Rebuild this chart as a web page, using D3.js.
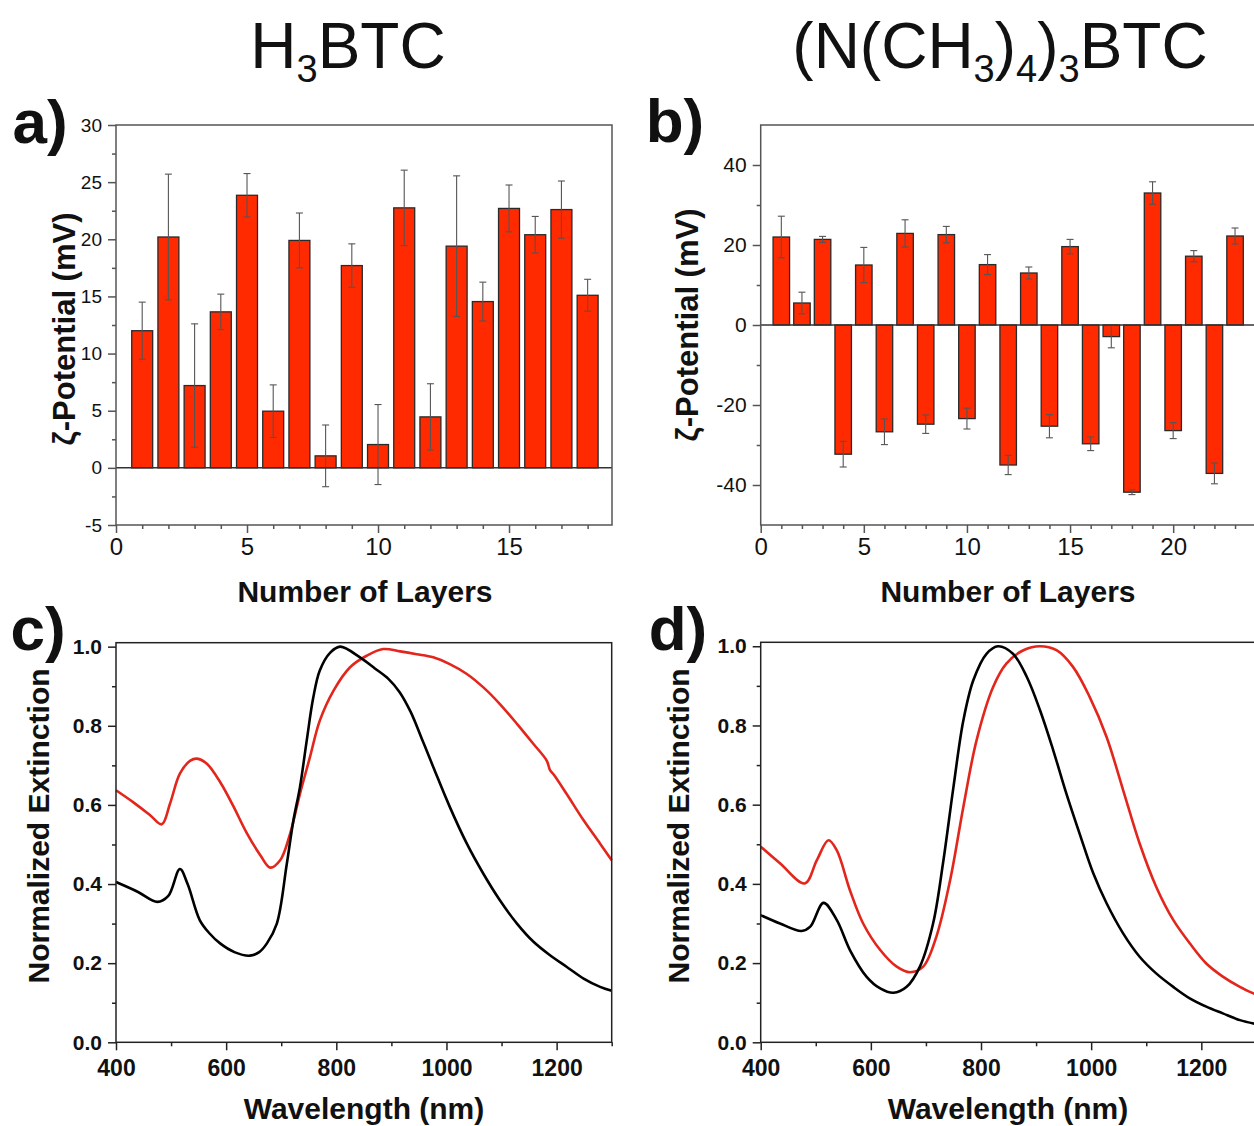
<!DOCTYPE html>
<html><head><meta charset="utf-8">
<script src="https://cdn.jsdelivr.net/npm/d3@7"></script>
<style>body{margin:0;background:#fff}svg{display:block;font-family:"Liberation Sans",Arial,sans-serif}</style>
</head><body>
<svg id="c" width="1254" height="1126"></svg>
<script>
// ---------- DATA ----------
const layersA = [1,2,3,4,5,6,7,8,9,10,11,12,13,14,15,16,17,18];
const zetaA   = [12.0,20.2,7.2,13.65,23.85,4.96,19.9,1.05,17.7,2.04,22.75,4.46,19.4,14.55,22.7,20.4,22.6,15.1];
const errA    = [2.5,5.5,5.4,1.55,1.9,2.3,2.4,2.7,1.9,3.5,3.3,2.9,6.15,1.7,2.05,1.6,2.5,1.4];

const layersB = [1,2,3,4,5,6,7,8,9,10,11,12,13,14,15,16,17,18,19,20,21,22,23];
const zetaB   = [22.0,5.5,21.4,-32.3,15.0,-26.7,22.9,-24.8,22.6,-23.4,15.1,-35.0,13.0,-25.3,19.6,-29.7,-2.9,-41.8,33.0,-26.4,17.2,-37.1,22.25];
const errB    = [5.2,2.7,0.75,3.2,4.4,3.2,3.4,2.3,2.05,2.6,2.5,2.4,1.5,2.9,1.8,1.7,2.8,0.6,2.8,2.0,1.4,2.6,2.0];

const wlCblack = [400,440,475,495,516,530,552,570,589,615,643,660,674,692,710,722,734,746,758,770,789,807,843,870,895,915,935,955,976,1006,1037,1067,1097,1128,1158,1188,1218,1249,1279,1300];
const extCblack= [0.405,0.38,0.355,0.37,0.438,0.40,0.309,0.275,0.25,0.228,0.219,0.228,0.25,0.30,0.45,0.56,0.645,0.76,0.87,0.94,0.985,1.0,0.973,0.945,0.918,0.885,0.835,0.768,0.696,0.595,0.502,0.426,0.359,0.30,0.254,0.22,0.191,0.161,0.140,0.13];
const wlCred   = [400,431,462,483,498,516,535,547,565,589,613,637,662,680,698,716,734,752,770,795,825,855,885,916,946,976,1006,1037,1067,1097,1128,1158,1182,1188,1195,1218,1249,1279,1300];
const extCred  = [0.637,0.607,0.574,0.551,0.603,0.679,0.712,0.717,0.704,0.658,0.597,0.530,0.473,0.4415,0.46,0.527,0.628,0.72,0.813,0.889,0.948,0.977,0.994,0.988,0.981,0.973,0.956,0.931,0.897,0.855,0.805,0.754,0.712,0.688,0.676,0.628,0.561,0.502,0.46];

const wlDblack = [400,435,474,490,514,538,562,592,617,641,665,689,713,731,750,768,786,810,831,858,883,907,931,955,979,1004,1028,1058,1088,1118,1149,1179,1209,1239,1270,1300];
const extDblack= [0.321,0.30,0.281,0.292,0.352,0.309,0.233,0.166,0.136,0.125,0.140,0.191,0.30,0.452,0.645,0.813,0.914,0.981,1.0,0.981,0.923,0.839,0.738,0.628,0.527,0.426,0.351,0.275,0.216,0.174,0.14,0.111,0.09,0.073,0.056,0.046];
const wlDred   = [400,435,480,502,523,538,562,586,617,647,671,695,719,744,768,792,822,846,877,907,937,967,997,1028,1058,1088,1118,1149,1179,1209,1239,1270,1300];
const extDred  = [0.494,0.452,0.401,0.46,0.51,0.485,0.384,0.30,0.233,0.191,0.177,0.191,0.267,0.41,0.595,0.763,0.897,0.956,0.99,1.0,0.99,0.948,0.873,0.771,0.637,0.502,0.393,0.309,0.25,0.199,0.166,0.14,0.12];

const yTicksA = [-5,0,5,10,15,20,25,30];
const xTicksA = [0,5,10,15];
const yTicksB = [-40,-20,0,20,40];
const xTicksB = [0,5,10,15,20];
const yTicksCD = [0.0,0.2,0.4,0.6,0.8,1.0];
const xTicksCD = [400,600,800,1000,1200];

// ---------- DRAW ----------
const svg = d3.select("#c");
svg.append("rect").attr("width",1254).attr("height",1126).attr("fill","#fff");
const RED = "#ff2a00";
const intFmt = d => String(d);
const oneDec = d => d.toFixed(1);

function frame(g, x, y, col){
  const [x0,x1] = x.range(), [y0,y1] = y.range();
  g.append("rect").attr("x",x0).attr("y",y1).attr("width",x1-x0).attr("height",y0-y1)
    .attr("fill","none").attr("stroke",col).attr("stroke-width",1.5);
}
function axes(g, x, y, o){
  const [x0,x1] = x.range(), [y0,y1] = y.range();
  const ya = g.append("g").attr("transform",`translate(${x0},0)`)
    .call(d3.axisLeft(y).tickValues(o.yMajor).tickSize(8).tickPadding(o.yPad).tickFormat(o.yFmt));
  ya.select(".domain").remove();
  ya.selectAll("line").attr("stroke",o.col).attr("stroke-width",1.5);
  ya.selectAll("text").attr("font-size",o.yFont).attr("font-weight",o.weight).attr("fill","#111");
  const ym = g.append("g").attr("transform",`translate(${x0},0)`)
    .call(d3.axisLeft(y).tickValues(o.yMinor).tickSize(4).tickFormat(""));
  ym.select(".domain").remove();
  ym.selectAll("line").attr("stroke",o.col).attr("stroke-width",1.5);
  const xa = g.append("g").attr("transform",`translate(0,${y0})`)
    .call(d3.axisBottom(x).tickValues(o.xMajor).tickSize(8).tickPadding(o.xPad).tickFormat(o.xFmt));
  xa.select(".domain").remove();
  xa.selectAll("line").attr("stroke",o.col).attr("stroke-width",1.5);
  xa.selectAll("text").attr("font-size",o.xFont).attr("font-weight",o.weight).attr("fill","#111");
  const xm = g.append("g").attr("transform",`translate(0,${y0})`)
    .call(d3.axisBottom(x).tickValues(o.xMinor).tickSize(4).tickFormat(""));
  xm.select(".domain").remove();
  xm.selectAll("line").attr("stroke",o.col).attr("stroke-width",1.5);
}
function label(txt, x, y, size, weight, rot){
  const t = svg.append("text").attr("font-size",size).attr("font-weight",weight).attr("fill","#111")
    .attr("text-anchor","middle").text(txt);
  if(rot) t.attr("transform",`translate(${x},${y}) rotate(-90)`).attr("dominant-baseline","central");
  else t.attr("x",x).attr("y",y);
  return t;
}

function barPanel(L, layers, vals, errs, xDom, yDom, o){
  const x = d3.scaleLinear().domain(xDom).range([L.l, L.r]);
  const y = d3.scaleLinear().domain(yDom).range([L.b, L.t]);
  const g = svg.append("g");
  const bw = x(0.8) - x(0);
  g.selectAll("rect.bar").data(layers).join("rect").attr("class","bar")
    .attr("x", d => x(d) - bw/2).attr("width", bw)
    .attr("y", (d,i) => Math.min(y(vals[i]), y(0)))
    .attr("height", (d,i) => Math.abs(y(vals[i]) - y(0)))
    .attr("fill", RED).attr("stroke","#2a2a2a").attr("stroke-width",1.3);
  const eb = g.selectAll("g.err").data(layers).join("g");
  eb.append("line").attr("x1", d=>x(d)).attr("x2", d=>x(d))
    .attr("y1",(d,i)=>y(vals[i]-errs[i])).attr("y2",(d,i)=>y(vals[i]+errs[i]))
    .attr("stroke","#555").attr("stroke-width",1.1);
  [-1,1].forEach(s=>{
    eb.append("line").attr("x1", d=>x(d)-3.5).attr("x2", d=>x(d)+3.5)
      .attr("y1",(d,i)=>y(vals[i]+s*errs[i])).attr("y2",(d,i)=>y(vals[i]+s*errs[i]))
      .attr("stroke","#555").attr("stroke-width",1.1);
  });
  g.append("line").attr("x1",L.l).attr("x2",L.r).attr("y1",y(0)).attr("y2",y(0))
    .attr("stroke","#333").attr("stroke-width",1.5);
  frame(g, x, y, "#555");
  axes(g, x, y, o);
  return {x,y};
}

// Panel a
barPanel({l:116,r:612,t:125,b:525}, layersA, zetaA, errA, [0,18.93], [-5,30], {
  col:"#555", weight:400, yFont:19, xFont:24, xPad:5, yPad:6,
  yMajor:yTicksA, yMinor:[-2.5,2.5,7.5,12.5,17.5,22.5,27.5],
  xMajor:xTicksA, xMinor:layersA.filter(d=>d%5!==0), yFmt:intFmt, xFmt:intFmt
});
// Panel b
barPanel({l:760.7,r:1256.7,t:125,b:525}, layersB, zetaB, errB, [0,24.05], [-50,50], {
  col:"#555", weight:400, yFont:21, xFont:24, xPad:5, yPad:6,
  yMajor:yTicksB, yMinor:[-30,-10,10,30],
  xMajor:xTicksB, xMinor:layersB.filter(d=>d%5!==0).concat([24]), yFmt:intFmt, xFmt:intFmt
});

function specPanel(L, series){
  const x = d3.scaleLinear().domain([400,1300]).range([L.l, L.r]);
  const y = d3.scaleLinear().domain([0,1.01]).range([L.b, L.t]);
  const g = svg.append("g");
  const line = d3.line().x(d=>x(d[0])).y(d=>y(d[1])).curve(d3.curveCatmullRom.alpha(0.5));
  series.forEach(s=>{
    g.append("path").datum(s.wl.map((w,i)=>[w,s.v[i]])).attr("d",line)
      .attr("fill","none").attr("stroke",s.c).attr("stroke-width",2.6).attr("stroke-linejoin","round");
  });
  frame(g, x, y, "#222");
  axes(g, x, y, {
    col:"#222", weight:700, yFont:21, xFont:23, xPad:9, yPad:6,
    yMajor:yTicksCD, yMinor:[0.1,0.3,0.5,0.7,0.9],
    xMajor:xTicksCD, xMinor:[500,700,900,1100,1300], yFmt:oneDec, xFmt:intFmt
  });
}
specPanel({l:116,r:611.7,t:642.7,b:1042.3}, [
  {wl:wlCred, v:extCred, c:"#e3261c"},
  {wl:wlCblack, v:extCblack, c:"#000"}
]);
specPanel({l:760.7,r:1256.4,t:642.3,b:1042.3}, [
  {wl:wlDred, v:extDred, c:"#e3261c"},
  {wl:wlDblack, v:extDblack, c:"#000"}
]);

// axis titles
label("ζ-Potential (mV)", 64, 329, 31, 700, true);
label("ζ-Potential (mV)", 687, 325, 31, 700, true);
label("Number of Layers", 365, 602, 30, 700);
label("Number of Layers", 1008, 602, 30, 700);
label("Normalized Extinction", 38, 826, 30, 700, true);
label("Normalized Extinction", 678, 826, 30, 700, true);
label("Wavelength (nm)", 364, 1119, 30, 700);
label("Wavelength (nm)", 1008, 1119, 30, 700);

// panel letters
[["a)",40,143],["b)",675,142],["c)",38,650],["d)",678,650]].forEach(p=>label(p[0],p[1],p[2],62,700));

// titles with subscripts
function title(parts, x, y){
  const t = svg.append("text").attr("x",x).attr("y",y).attr("text-anchor","middle")
    .attr("font-size",64).attr("fill","#111");
  let sub = false;
  parts.forEach(p=>{
    const isSub = !!p.sub;
    const dy = isSub && !sub ? 14 : (!isSub && sub ? -14 : 0);
    t.append("tspan").attr("dy",dy).attr("font-size", isSub?38:64).text(p.t);
    sub = isSub;
  });
}
title([{t:"H"},{t:"3",sub:true},{t:"BTC"}], 348, 68);
title([{t:"(N(CH"},{t:"3",sub:true},{t:")"},{t:"4",sub:true},{t:")"},{t:"3",sub:true},{t:"BTC"}], 1000, 68);
</script>
</body></html>
